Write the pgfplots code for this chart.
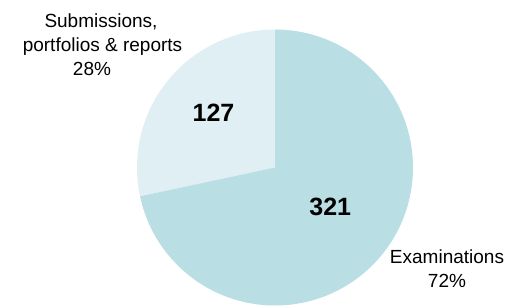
\documentclass[border=0pt]{standalone}
\usepackage{fontspec}
\setmainfont{Liberation Sans}
\usepackage{pgfplots}
\pgfplotsset{compat=1.18}
\definecolor{exam}{HTML}{B9DEE3}
\definecolor{subm}{HTML}{DFEFF3}
\begin{document}
\begin{tikzpicture}
\pgfmathsetmacro\vSub{127}
\pgfmathsetmacro\vExam{321}
\pgfmathsetmacro\frac{\vSub/(\vSub+\vExam)}
\pgfmathsetmacro\aEnd{90+360*\frac}
\def\cx{275}\def\cy{167.5}\def\r{138}
\begin{axis}[
  x=1pt, y=1pt, scale only axis,
  xmin=0, xmax=509, ymin=0, ymax=306, y dir=reverse,
  hide axis, clip=false,
]
\path (axis cs:0,0) rectangle (axis cs:509,306);
\addplot[fill=subm, draw=none, domain=90:\aEnd, samples=120, variable=\t]
  ({\cx+\r*cos(\t)}, {\cy-\r*sin(\t)}) -- (axis cs:\cx,\cy) -- cycle;
\addplot[fill=exam, draw=none, domain=\aEnd:450, samples=240, variable=\t]
  ({\cx+\r*cos(\t)}, {\cy-\r*sin(\t)}) -- (axis cs:\cx,\cy) -- cycle;
\node[font=\fontsize{25}{30}\selectfont\bfseries] at (axis cs:213.5,112.8) {127};
\node[font=\fontsize{25}{30}\selectfont\bfseries] at (axis cs:330.3,207.2) {321};
\node[anchor=base, font=\fontsize{19}{24}\selectfont, inner sep=0pt] at (axis cs:101,27) {Submissions,};
\node[anchor=base, font=\fontsize{19}{24}\selectfont, inner sep=0pt] at (axis cs:102.5,51) {portfolios \& reports};
\node[anchor=base, font=\fontsize{19}{24}\selectfont, inner sep=0pt] at (axis cs:92,75.5) {28\%};
\node[anchor=base, font=\fontsize{19}{24}\selectfont, inner sep=0pt] at (axis cs:447,263) {Examinations};
\node[anchor=base, font=\fontsize{19}{24}\selectfont, inner sep=0pt] at (axis cs:447,287) {72\%};
\end{axis}
\end{tikzpicture}
\end{document}
